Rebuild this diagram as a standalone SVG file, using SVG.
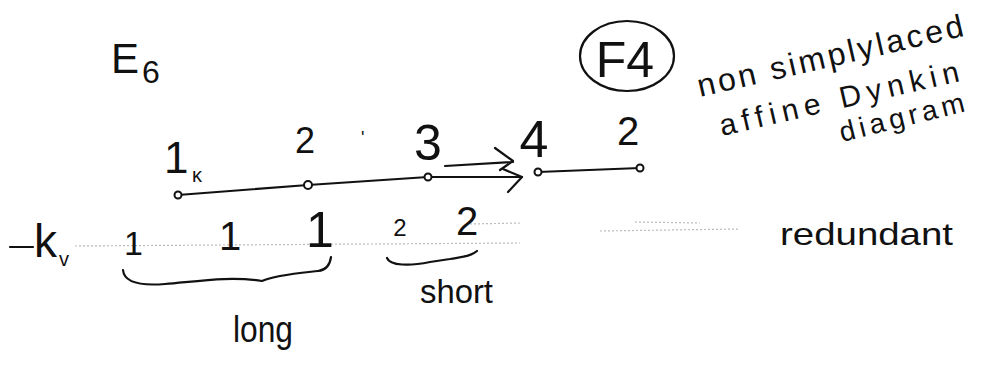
<svg xmlns="http://www.w3.org/2000/svg" width="982" height="370" viewBox="0 0 982 370">
<style>
.t{font-family:"Liberation Sans","DejaVu Sans",sans-serif;fill:#111;font-weight:normal}
.ln{stroke:#111;stroke-width:2.2;fill:none;stroke-linecap:round;stroke-linejoin:round}
.dot{fill:#fff;stroke:#111;stroke-width:2}
.faint{stroke:#bbb;stroke-width:1.2;stroke-dasharray:2 2;fill:none}
</style>
<rect width="982" height="370" fill="#fff"/>
<g id="title-e6">
<text class="t" x="111" y="73" font-size="42">E</text>
<text class="t" x="142" y="83" font-size="32">6</text>
</g>
<g id="label-f4">
<ellipse cx="627" cy="56" rx="47" ry="35" class="ln"/>
<text class="t" x="625" y="77" font-size="50" text-anchor="middle">F4</text>
</g>
<g id="note">
<text class="t" font-size="32" transform="translate(700,97) rotate(-13)" textLength="272" lengthAdjust="spacing">non simplylaced</text>
<text class="t" font-size="30" transform="translate(722,136) rotate(-13)" textLength="245" lengthAdjust="spacing">affine Dynkin</text>
<text class="t" font-size="28" transform="translate(842,142) rotate(-14)" textLength="128" lengthAdjust="spacing">diagram</text>
</g>
<g id="connectors">
<path class="ln" d="M178,195 L308,185 L428,177 L522,177"/>
<path class="ln" d="M503,169 L522,177 L508,192"/>
<path class="ln" d="M445,166 L513,162 M495,148 L513,161 L500,170"/>
<path class="ln" d="M538,172 L640,168"/>
<path class="faint" d="M75,246 L520,243 M470,224 L520,223 M600,231 L740,229 M635,222 L700,223"/>
</g>
<g id="node1">
<circle class="dot" cx="178" cy="195" r="3.5"/>
<text class="t" x="164" y="173" font-size="44">1</text>
<text class="t" x="192" y="182" font-size="20">κ</text>
<text class="t" x="124" y="255" font-size="34">1</text>
</g>
<g id="node2">
<circle class="dot" cx="308" cy="185" r="4"/>
<text class="t" x="305" y="153" font-size="36" text-anchor="middle">2</text>
<text class="t" x="361" y="144" font-size="18">'</text>
<text class="t" x="219" y="250" font-size="40">1</text>
</g>
<g id="node3">
<circle class="dot" cx="428" cy="177" r="3.5"/>
<text class="t" x="428" y="160" font-size="50" text-anchor="middle">3</text>
<text class="t" x="306" y="247" font-size="50">1</text>
</g>
<g id="node4">
<circle class="dot" cx="538" cy="172" r="3.5"/>
<text class="t" x="534" y="157" font-size="52" text-anchor="middle">4</text>
<text class="t" x="400" y="236" font-size="24" text-anchor="middle">2</text>
</g>
<g id="node5">
<circle class="dot" cx="640" cy="168" r="3.5"/>
<text class="t" x="628" y="145" font-size="40" text-anchor="middle">2</text>
<text class="t" x="467" y="235" font-size="40" text-anchor="middle">2</text>
</g>
<g id="kv-row">
<path class="ln" d="M10,247 L33,247"/>
<text class="t" x="34" y="257" font-size="46">k</text>
<text class="t" x="59" y="266" font-size="20">v</text>
<text class="t" x="780" y="245" font-size="32" textLength="173" lengthAdjust="spacingAndGlyphs">redundant</text>
</g>
<g id="braces">
<path class="ln" d="M123,270 C124,282 140,286 165,284 C200,281 230,276 262,281 C275,275 300,273 318,271 C326,270 330,265 331,257"/>
<path class="ln" d="M387,258 C390,266 410,266 430,262 L450,259 C460,257 470,257 477,251"/>
<text class="t" x="233" y="342" font-size="36" textLength="60" lengthAdjust="spacingAndGlyphs">long</text>
<text class="t" x="420" y="303" font-size="33" textLength="73" lengthAdjust="spacingAndGlyphs">short</text>
</g>
</svg>
